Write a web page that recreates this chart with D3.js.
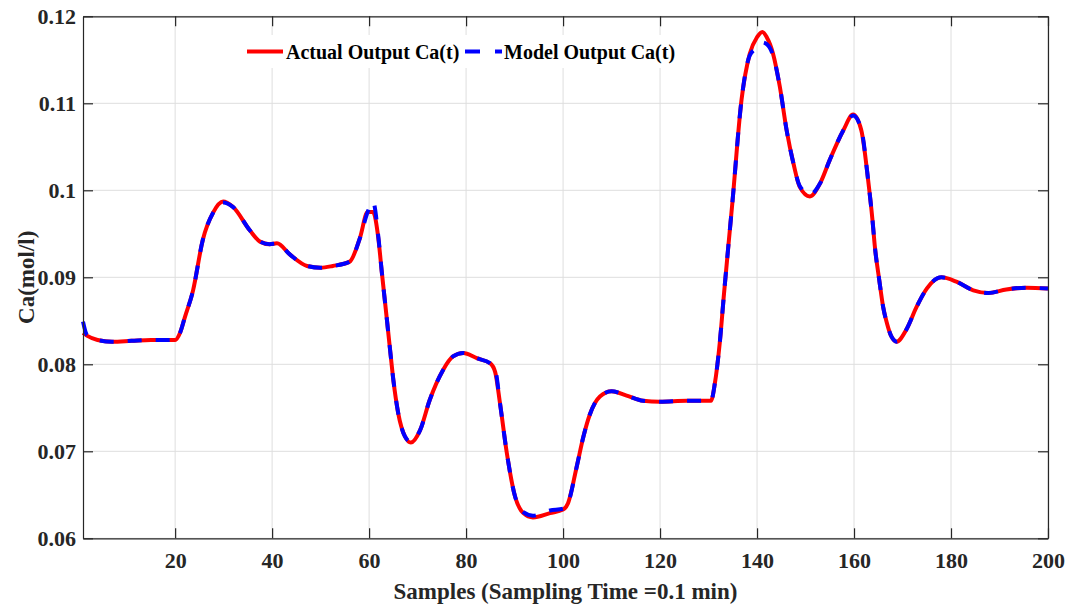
<!DOCTYPE html>
<html>
<head>
<meta charset="utf-8">
<title>Ca(t) actual vs model</title>
<style>
  body { margin: 0; background: #fff; }
  text { font-family: "Liberation Serif", "Times New Roman", serif; font-weight: bold; }
</style>
</head>
<body>
<div id="chart"></div>
<script src="https://d3js.org/d3.v7.min.js"></script>
<script>
// sample positions and the two series
const sampleX = [1, 1.8, 4, 7, 11, 15, 20, 21, 22, 23.7, 25.7, 27.8, 29.9, 31.9, 35.4, 37.5, 39.5, 41,
  43.7, 47.2, 50, 52.5, 56, 58.1, 59.7, 60.8, 61.9, 62.6, 63.6, 64.3, 65, 66, 67.4, 68.6, 70.5,
  72.5, 75.2, 77.3, 79.4, 82.2, 85, 86, 87, 88.4, 90.1, 91.8, 93.8, 97.3, 100, 101, 102.8, 104.2,
  105.5, 107.6, 110, 113.1, 116.5, 120, 125.5, 130.5, 131.3, 132.3, 133.2, 134.2, 134.9, 136.8,
  138.5, 140, 141.1, 142, 143.3, 144.7, 146.1, 147.5, 148.8, 150.9, 153, 155, 157.8, 159.8, 161.5,
  162.9, 163.8, 164.3, 165.2, 166, 166.8, 167.7, 168.8, 170.8, 172.9, 175, 178, 181.1, 184.6, 187.7,
  191.4, 195.6, 200];

const actualOutput = [0.0836, 0.0833, 0.0828, 0.0826, 0.0827, 0.0828, 0.0828, 0.0836, 0.0854, 0.0885,
  0.0943, 0.0974, 0.0987, 0.0981, 0.0954, 0.0941, 0.0938, 0.0939, 0.0926, 0.0913, 0.0911, 0.0913,
  0.0918, 0.0945, 0.0975, 0.0975, 0.0945, 0.0907, 0.0855, 0.0818, 0.0782, 0.0744, 0.0717, 0.0710,
  0.0724, 0.0759, 0.0793, 0.0809, 0.0813, 0.0807, 0.0801, 0.0791, 0.0755, 0.0698, 0.0648, 0.0629,
  0.0624, 0.0629, 0.0633, 0.0640, 0.0682, 0.0717, 0.0742, 0.0763, 0.0769, 0.0764, 0.0758, 0.0757,
  0.0758, 0.0758, 0.0778, 0.0824, 0.0882, 0.0943, 0.0985, 0.1104, 0.1157, 0.1176, 0.1182, 0.1176,
  0.1157, 0.1119, 0.1069, 0.1031, 0.1004, 0.0993, 0.1008, 0.1035, 0.1069, 0.1087, 0.1069, 0.1012,
  0.0966, 0.0935, 0.0897, 0.0866, 0.0847, 0.0832, 0.0826, 0.0840, 0.0866, 0.0887, 0.0900, 0.0895,
  0.0885, 0.0882, 0.0886, 0.0888, 0.0887];

const modelOutput = [0.0849, 0.0834, 0.0828, 0.0826, 0.0827, 0.0828, 0.0828, 0.0836, 0.0854, 0.0885,
  0.0943, 0.0974, 0.0986, 0.0981, 0.0954, 0.0941, 0.0938, 0.0939, 0.0926, 0.0913, 0.0911, 0.0913,
  0.0918, 0.0945, 0.0975, 0.0987, 0.0947, 0.0907, 0.0855, 0.0818, 0.0782, 0.0744, 0.0717, 0.0711,
  0.0724, 0.0759, 0.0793, 0.0809, 0.0813, 0.0807, 0.0801, 0.0794, 0.0755, 0.0698, 0.0648, 0.0630,
  0.0626, 0.0632, 0.0634, 0.0640, 0.0682, 0.0717, 0.0742, 0.0763, 0.0769, 0.0764, 0.0758, 0.0757,
  0.0758, 0.0758, 0.0778, 0.0824, 0.0882, 0.0943, 0.0985, 0.1104, 0.1155, 0.1164, 0.1170, 0.1168,
  0.1155, 0.1119, 0.1069, 0.1031, 0.1005, 0.0995, 0.1008, 0.1035, 0.1069, 0.1086, 0.1070, 0.1012,
  0.0966, 0.0935, 0.0897, 0.0866, 0.0847, 0.0832, 0.0826, 0.0840, 0.0866, 0.0887, 0.0900, 0.0895,
  0.0885, 0.0882, 0.0886, 0.0888, 0.0887];

const xTicks = [20, 40, 60, 80, 100, 120, 140, 160, 180, 200];
const yTicks = [0.06, 0.07, 0.08, 0.09, 0.1, 0.11, 0.12];
const yTickLabels = ['0.06', '0.07', '0.08', '0.09', '0.1', '0.11', '0.12'];
const seriesNames = ['Actual Output Ca(t)', 'Model Output Ca(t)'];

const W = 1070, H = 612;
const margin = {top: 16.3, right: 22, bottom: 73.7, left: 83};
const width = W - margin.left - margin.right;
const height = H - margin.top - margin.bottom;
const axisColor = '#262626';
const tickLen = 10;

const svg = d3.select('#chart').append('svg')
  .attr('width', W).attr('height', H);
const g = svg.append('g')
  .attr('transform', 'translate(' + margin.left + ',' + margin.top + ')');

const x = d3.scaleLinear().domain([1, 200]).range([0, width]);
const y = d3.scaleLinear().domain([0.06, 0.12]).range([height, 0]);

// grid
g.append('g').selectAll('line').data(xTicks).join('line')
  .attr('x1', d => x(d)).attr('x2', d => x(d))
  .attr('y1', 0).attr('y2', height)
  .attr('stroke', '#dedede').attr('stroke-width', 1);
g.append('g').selectAll('line').data(yTicks).join('line')
  .attr('x1', 0).attr('x2', width)
  .attr('y1', d => y(d)).attr('y2', d => y(d))
  .attr('stroke', '#dedede').attr('stroke-width', 1);

// lines
const actualData = sampleX.map((s, i) => ({x: s, y: actualOutput[i]}));
const modelData = sampleX.map((s, i) => ({x: s, y: modelOutput[i]}));
const line = d3.line().x(d => x(d.x)).y(d => y(d.y)).curve(d3.curveMonotoneX);

g.append('path').datum(actualData)
  .attr('d', line).attr('fill', 'none')
  .attr('stroke', '#ff0000').attr('stroke-width', 4)
  .attr('stroke-linejoin', 'round');
g.append('path').datum(modelData)
  .attr('d', line).attr('fill', 'none')
  .attr('stroke', '#0000ff').attr('stroke-width', 4)
  .attr('stroke-dasharray', '14,14');

// axes (box with inward ticks on all sides)
const xBottom = d3.axisBottom(x).tickValues(xTicks).tickSizeInner(-tickLen).tickSizeOuter(0).tickPadding(14);
const xTop = d3.axisTop(x).tickValues(xTicks).tickSizeInner(-tickLen).tickSizeOuter(0).tickFormat('');
const yLeft = d3.axisLeft(y).tickValues(yTicks).tickSizeInner(-tickLen).tickSizeOuter(0).tickPadding(7)
  .tickFormat((d, i) => yTickLabels[i]);
const yRight = d3.axisRight(y).tickValues(yTicks).tickSizeInner(-tickLen).tickSizeOuter(0).tickFormat('');

function styleAxis(sel) {
  sel.selectAll('path').attr('stroke', axisColor).attr('stroke-width', 1.2);
  sel.selectAll('line').attr('stroke', axisColor).attr('stroke-width', 1.2);
  sel.selectAll('text').attr('fill', axisColor).style('font-size', '22px')
    .style('font-family', '"Liberation Serif", "Times New Roman", serif').style('font-weight', 'bold');
}

g.append('g').attr('transform', 'translate(0,' + height + ')').call(xBottom).call(styleAxis);
g.append('g').call(xTop).call(styleAxis);
g.append('g').call(yLeft).call(styleAxis);
g.append('g').attr('transform', 'translate(' + width + ',0)').call(yRight).call(styleAxis);

// axis titles
svg.append('text')
  .attr('x', margin.left + width / 2).attr('y', 599)
  .attr('text-anchor', 'middle').attr('fill', axisColor)
  .style('font-size', '23px')
  .text('Samples (Sampling Time =0.1 min)');
svg.append('text')
  .attr('transform', 'translate(34,' + (margin.top + height / 2) + ') rotate(-90)')
  .attr('text-anchor', 'middle').attr('fill', axisColor)
  .style('font-size', '23px')
  .text('Ca(mol/l)');

// legend
const legend = svg.append('g');
legend.append('rect')
  .attr('x', 240).attr('y', 35).attr('width', 443).attr('height', 33)
  .attr('fill', '#fff');
legend.append('line')
  .attr('x1', 247).attr('x2', 283).attr('y1', 51.5).attr('y2', 51.5)
  .attr('stroke', '#ff0000').attr('stroke-width', 4);
legend.append('text')
  .attr('x', 286).attr('y', 58.5).style('font-size', '20px').attr('fill', '#000')
  .text(seriesNames[0]);
legend.append('line')
  .attr('x1', 465).attr('x2', 502).attr('y1', 51.5).attr('y2', 51.5)
  .attr('stroke', '#0000ff').attr('stroke-width', 4).attr('stroke-dasharray', '15,15');
legend.append('text')
  .attr('x', 504).attr('y', 58.5).style('font-size', '20px').attr('fill', '#000')
  .text(seriesNames[1]);
</script>
</body>
</html>
